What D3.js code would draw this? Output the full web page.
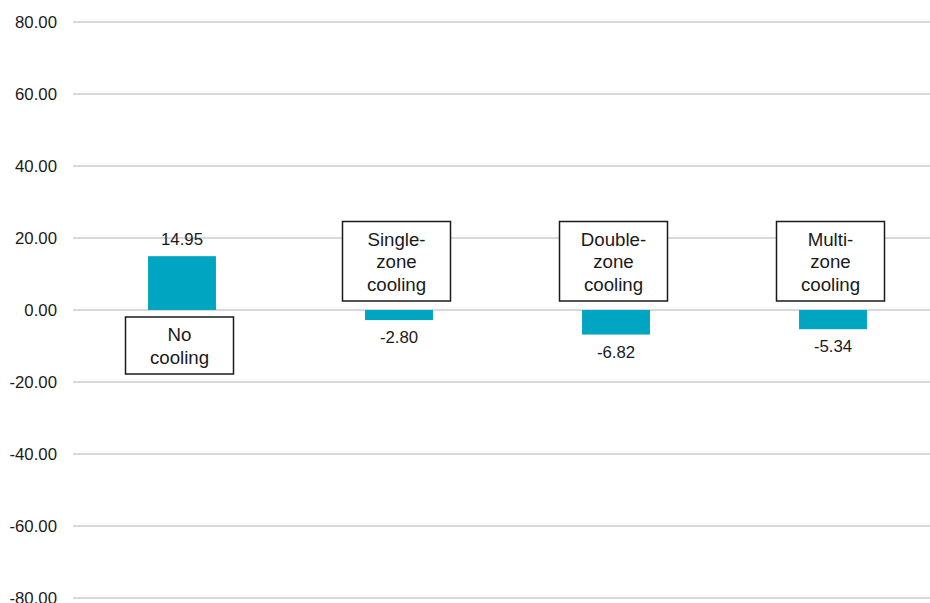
<!DOCTYPE html>
<html>
<head>
<meta charset="utf-8">
<script src="https://cdn.jsdelivr.net/npm/d3@7"></script>
<style>
  html, body { margin: 0; padding: 0; background: #ffffff; }
  svg { display: block; font-family: "Liberation Sans", Arial, sans-serif; }
</style>
</head>
<body>
<svg id="chart" width="930" height="603"></svg>
<script>
// Category names (wrapped lines as shown in each label box)
const categories = ["No cooling", "Single-zone cooling", "Double-zone cooling", "Multi-zone cooling"];
const categoryLines = [["No", "cooling"], ["Single-", "zone", "cooling"], ["Double-", "zone", "cooling"], ["Multi-", "zone", "cooling"]];
// Values per category
const values = [14.95, -2.80, -6.82, -5.34];
// Y axis ticks
const yTicks = [80, 60, 40, 20, 0, -20, -40, -60, -80];

const svg = d3.select("#chart");
const W = 930, H = 603;
const fmt = d => d.toFixed(2);

const y = d3.scaleLinear().domain([-80, 80]).range([598, 22]);
const x = d3.scaleBand()
  .domain(categories)
  .range([73.5, 941.5])
  .paddingInner(0.687)
  .paddingOuter(0.687 / 2);

// Horizontal gridlines
svg.append("g")
  .selectAll("line")
  .data(yTicks)
  .join("line")
  .attr("x1", 73)
  .attr("x2", W)
  .attr("y1", d => y(d))
  .attr("y2", d => y(d))
  .attr("stroke", "#cdcdcd")
  .attr("stroke-width", 1.6);

// Y tick labels
svg.append("g")
  .selectAll("text")
  .data(yTicks)
  .join("text")
  .attr("x", 57)
  .attr("y", d => y(d))
  .attr("dy", "0.36em")
  .attr("text-anchor", "end")
  .attr("font-size", 16.8)
  .attr("fill", "#1a1a1a")
  .text(fmt);

// Bars
svg.append("g")
  .selectAll("rect")
  .data(values)
  .join("rect")
  .attr("x", (d, i) => x(categories[i]))
  .attr("width", x.bandwidth())
  .attr("y", d => Math.min(y(d), y(0)))
  .attr("height", d => Math.abs(y(d) - y(0)))
  .attr("fill", "#00a6c1");

// Value labels
svg.append("g")
  .selectAll("text")
  .data(values)
  .join("text")
  .attr("x", (d, i) => x(categories[i]) + x.bandwidth() / 2)
  .attr("y", d => d >= 0 ? y(d) - 11 : y(d) + 23)
  .attr("text-anchor", "middle")
  .attr("font-size", 16.8)
  .attr("fill", "#1a1a1a")
  .text(fmt);

// Category label boxes, placed on the opposite side of zero from the bar
const lineH = 22.5, boxW = 108;
const boxes = svg.append("g")
  .selectAll("g")
  .data(values)
  .join("g")
  .attr("transform", (d, i) => {
    const cx = x(categories[i]) + x.bandwidth() / 2 - 2.5;
    const h = categoryLines[i].length * lineH + 12;
    const top = d >= 0 ? y(0) + 7 : y(0) - 9 - h;
    return `translate(${cx},${top})`;
  });

boxes.append("rect")
  .attr("x", -boxW / 2)
  .attr("y", 0)
  .attr("width", boxW)
  .attr("height", (d, i) => categoryLines[i].length * lineH + 12)
  .attr("fill", "#ffffff")
  .attr("stroke", "#1a1a1a")
  .attr("stroke-width", 1.5);

boxes.each(function(d, i) {
  d3.select(this).selectAll("text")
    .data(categoryLines[i])
    .join("text")
    .attr("x", 0)
    .attr("y", (t, j) => 24 + j * lineH)
    .attr("text-anchor", "middle")
    .attr("font-size", 18.7)
    .attr("fill", "#1a1a1a")
    .text(t => t);
});
</script>
</body>
</html>
